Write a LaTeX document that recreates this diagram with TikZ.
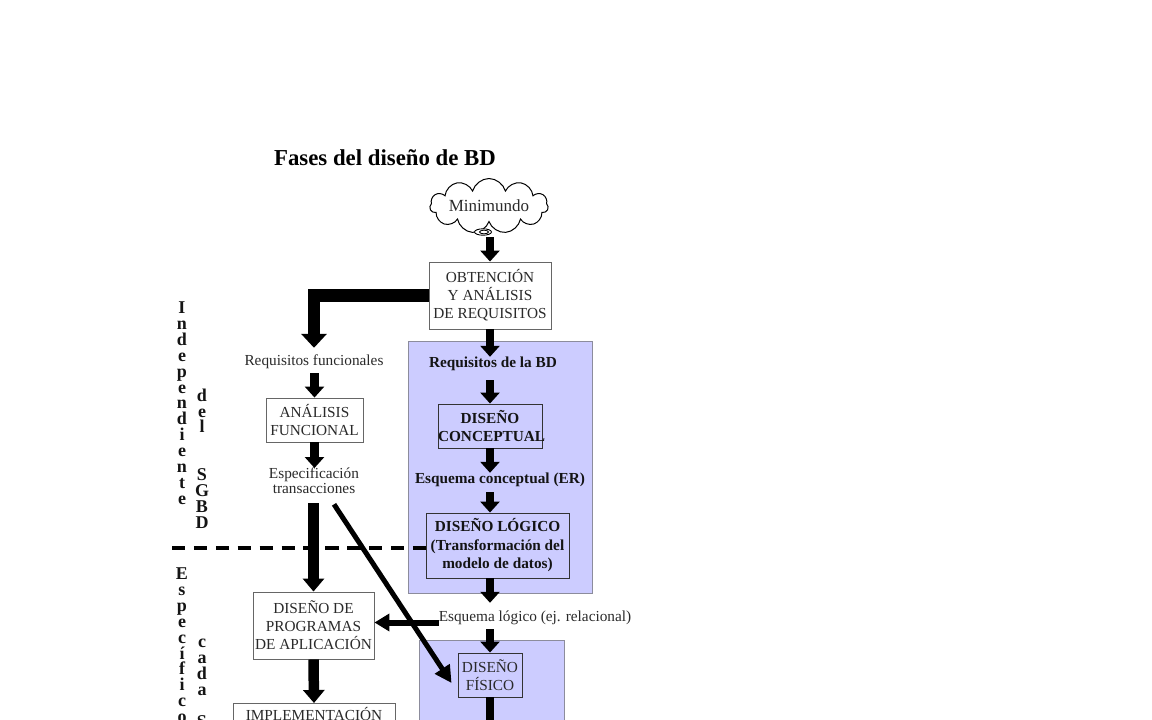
\documentclass[tikz,border=0pt]{standalone}
\usepackage{fontspec}
\setmainfont{Liberation Serif}
\usetikzlibrary{arrows.meta,shapes.symbols}
\definecolor{bdblue}{HTML}{CCCCFF}
\definecolor{bdedge}{HTML}{8C8C9C}
\definecolor{txtgray}{HTML}{2A2A2A}
\begin{document}
\begin{tikzpicture}[x=1pt,y=-1pt,
 body/.style={font=\fontsize{15.3}{18}\selectfont, text=txtgray},
 bodyb/.style={font=\fontsize{15.3}{18.5}\selectfont\bfseries, text=black!92},
 plainbox/.style={body, draw=black!60, line width=0.9pt, fill=white, align=center, inner sep=0pt},
 innerbox/.style={bodyb, draw=black!80, line width=0.9pt, align=center, inner sep=0pt},
 bluebox/.style={fill=bdblue, draw=bdedge, line width=0.9pt, inner sep=0pt},
 lbl/.style={inner sep=0pt, text height=10.5pt, text depth=3.5pt},
 vlet/.style={font=\fontsize{18}{18}\selectfont\bfseries, anchor=base, inner sep=0pt, text=black!92},
 arrm/.style={line width=8.5pt, -{Triangle[width=19pt,length=11pt]}},
 arrb/.style={line width=10.5pt, -{Triangle[width=21pt,length=13pt]}},
 arrL/.style={line width=12.5pt, line join=miter, -{Triangle[width=25pt,length=14pt]}},
 arrh/.style={line width=6pt, -{Triangle[width=17pt,length=15pt]}},
 arrd/.style={line width=5pt, -{Triangle[width=17pt,length=17pt]}},
 dashline/.style={line width=3.5pt, dash pattern=on 13.3pt off 8.6pt}
]
\useasboundingbox (0,0) rectangle (1152,720);
\fill[white] (0,0) rectangle (1152,720);
\clip (0,0) rectangle (1152,720);

% title
\node[font=\fontsize{22.8}{26}\selectfont\bfseries, inner sep=0pt] (title) at (385,158) {Fases del diseño de BD};

% blue areas
\node[bluebox, minimum width=184pt, minimum height=252pt] (blue1) at (500,467) {};
\node[bluebox, anchor=north, minimum width=145pt, minimum height=140pt] (blue2) at (491.5,640) {};

% cloud
\node[cloud, draw, line width=1pt, fill=white, cloud puffs=11, cloud ignores aspect, inner xsep=1pt, inner ysep=5pt, minimum width=104pt, body, font=\fontsize{17}{20}\selectfont] (cloud) at (489,206) {Minimundo};
\draw[line width=0.9pt, fill=white] (483,232) ellipse [x radius=8.5pt, y radius=3.2pt];
\draw[line width=0.8pt] (484,232) ellipse [x radius=4.5pt, y radius=1.8pt];
\coordinate (swirlbot) at (490,237);

% boxes
\node[plainbox, minimum width=122pt, minimum height=67pt] (obt) at (490,295.5) {OBTENCIÓN\\Y ANÁLISIS\\DE REQUISITOS};
\node[innerbox, text width=104pt, minimum height=44pt] (conc) at (490,426) {DISEÑO\\CONCEPTUAL};
\node[innerbox, minimum width=143pt, minimum height=65pt] (logico) at (497.5,545.5) {DISEÑO LÓGICO\\(Transformación del\\modelo de datos)};
\node[innerbox, font=\fontsize{15.3}{18.5}\selectfont, text=txtgray, minimum width=64pt, minimum height=44pt] (fisico) at (490,675) {DISEÑO\\FÍSICO};
\node[plainbox, minimum width=97pt, minimum height=44pt] (analisis) at (314.5,420) {ANÁLISIS\\FUNCIONAL};
\node[plainbox, minimum width=121pt, minimum height=67pt] (progr) at (313.5,625.5) {DISEÑO DE\\PROGRAMAS\\DE APLICACIÓN};
\node[plainbox, anchor=north, minimum width=162pt, minimum height=67pt] (impl) at (314,703) {};
\node[body, anchor=base, inner sep=0pt] (impltxt) at (314,720.5) {IMPLEMENTACIÓN};

% labels
\node[bodyb, lbl] (reqbd) at (493,364) {Requisitos de la BD};
\node[bodyb, lbl] (esqconc) at (500,480) {Esquema conceptual (ER)};
\node[body, lbl] (esqlog) at (535,618) {Esquema lógico (ej. relacional)};
\node[body, lbl] (reqfunc) at (314,362) {Requisitos funcionales};
\node[body, align=center, inner sep=0pt, anchor=north, font=\fontsize{15.3}{15}\selectfont] (espec) at (314,468) {Especificación\\transacciones};

% vertical side texts
\foreach \ch [count=\i from 0] in {I,n,d,e,p,e,n,d,i,e,n,t,e}
  \node[vlet] (inda\i) at (182,313.5+15.9*\i) {\ch};
\foreach \ch [count=\i from 0] in {d,e,l}
  \node[vlet] (indb\i) at (202,401.5+15.5*\i) {\ch};
\foreach \ch [count=\i from 0] in {S,G,B,D}
  \node[vlet] (indc\i) at (202,480.5+16*\i) {\ch};
\foreach \ch [count=\i from 0] in {E,s,p,e,c,í,f,i,c,o}
  \node[vlet] (espa\i) at (182,579.5+15.9*\i) {\ch};
\foreach \ch [count=\i from 0] in {c,a,d,a}
  \node[vlet] (espb\i) at (202,647+16*\i) {\ch};
\node[vlet] (espc) at (202,727) {S};

% dashed separator
\coordinate (dashL) at (172,548);
\draw[dashline] (dashL) -- (dashL -| logico.west);

% connectors
\draw[arrm] (swirlbot) -- (obt.north);
\draw[arrm] (obt.south) -- (obt.south |- reqbd.north);
\draw[arrm, shorten <=9pt] (conc.north |- reqbd.south) -- (conc.north);
\draw[arrm] (conc.south) -- (conc.south |- esqconc.north);
\draw[arrm, shorten <=5pt] (conc.south |- esqconc.south) -- (conc.south |- logico.north);
\draw[arrm, shorten >=8pt] (conc.south |- logico.south) -- (conc.south |- esqlog.north);
\draw[arrm, shorten <=4pt] (fisico.north |- esqlog.south) -- (fisico.north);
\coordinate (fisout) at (490,745);
\draw[arrm] (fisico.south) -- (fisout);
\draw[arrL, shorten >=7pt] (obt.west) -| (reqfunc.north);
\draw[arrm, shorten <=4pt] (analisis.north |- reqfunc.south) -- (analisis.north);
\draw[arrm] (analisis.south) -- (analisis.south |- espec.north);
\draw[arrb, shorten <=9pt] (progr.north |- espec.south) -- (progr.north);
\draw[arrh] ([yshift=-4.5pt]esqlog.west) -- ([yshift=-4.5pt]esqlog.west -| progr.east);
\draw[arrd] ([xshift=20pt,yshift=-10pt]espec.south) -- ([xshift=-6pt,yshift=-8pt]fisico.west);
\draw[arrb] (progr.south) -- (impl.north);
\end{tikzpicture}
\end{document}
